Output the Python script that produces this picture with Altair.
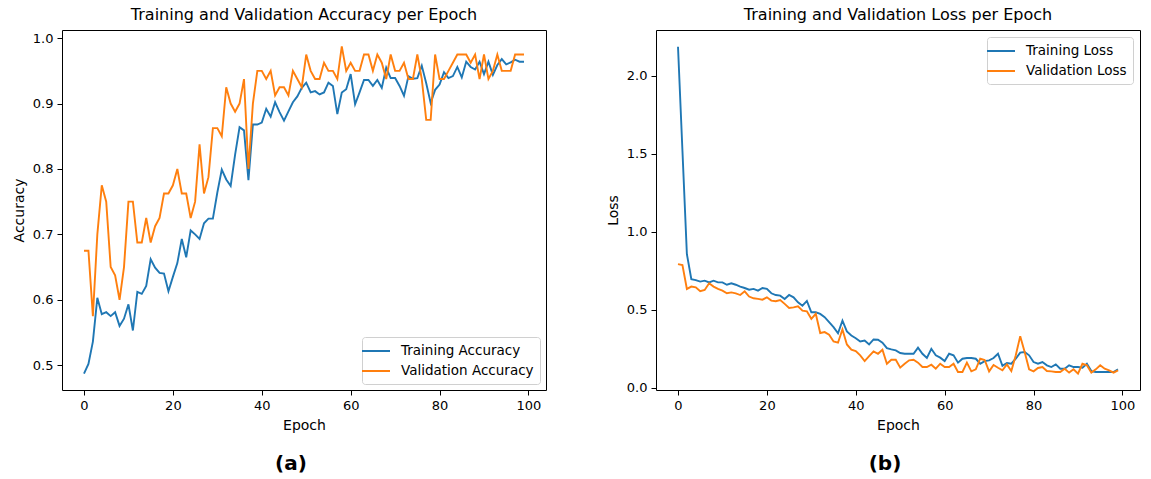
import altair as alt
import pandas as pd

epochs = list(range(100))

train_acc = [
    0.487, 0.502, 0.536, 0.603, 0.578, 0.581, 0.575, 0.581, 0.560, 0.571,
    0.593, 0.553, 0.612, 0.609, 0.621, 0.662, 0.649, 0.641, 0.640, 0.613,
    0.635, 0.656, 0.693, 0.665, 0.706, 0.700, 0.693, 0.717, 0.724, 0.724,
    0.764, 0.799, 0.784, 0.774, 0.822, 0.864, 0.859, 0.783, 0.868, 0.868,
    0.871, 0.892, 0.880, 0.902, 0.887, 0.874, 0.888, 0.902, 0.911, 0.924,
    0.932, 0.917, 0.919, 0.914, 0.917, 0.932, 0.927, 0.884, 0.917, 0.922,
    0.945, 0.899, 0.917, 0.936, 0.936, 0.927, 0.936, 0.924, 0.955, 0.939,
    0.939, 0.927, 0.912, 0.942, 0.938, 0.939, 0.958, 0.931, 0.901, 0.921,
    0.929, 0.948, 0.939, 0.942, 0.956, 0.940, 0.964, 0.956, 0.952, 0.964,
    0.945, 0.964, 0.944, 0.959, 0.968, 0.960, 0.963, 0.967, 0.964, 0.964,
]

val_acc = [
    0.675, 0.675, 0.575, 0.700, 0.775, 0.750, 0.650, 0.6375, 0.600, 0.650,
    0.750, 0.750, 0.6875, 0.6875, 0.725, 0.6875, 0.7125, 0.725, 0.7625, 0.7625,
    0.775, 0.800, 0.7625, 0.7625, 0.725, 0.750, 0.8375, 0.7625, 0.7875, 0.8625,
    0.8625, 0.850, 0.925, 0.900, 0.8875, 0.900, 0.9375, 0.800, 0.900, 0.950,
    0.950, 0.9375, 0.950, 0.9125, 0.925, 0.925, 0.9125, 0.950, 0.9375, 0.925,
    0.975, 0.950, 0.9375, 0.9375, 0.9625, 0.950, 0.950, 0.9375, 0.9875, 0.950,
    0.9625, 0.950, 0.950, 0.975, 0.975, 0.950, 0.975, 0.9625, 0.9375, 0.975,
    0.950, 0.950, 0.9625, 0.9375, 0.9375, 0.975, 0.9375, 0.875, 0.875, 0.975,
    0.9375, 0.9375, 0.950, 0.9625, 0.975, 0.975, 0.975, 0.9625, 0.975, 0.9375,
    0.975, 0.9375, 0.950, 0.975, 0.950, 0.950, 0.950, 0.975, 0.975, 0.975,
]

train_loss = [
    2.187, 1.520, 0.856, 0.696, 0.690, 0.680, 0.686, 0.675, 0.686, 0.675,
    0.675, 0.660, 0.669, 0.660, 0.648, 0.639, 0.628, 0.633, 0.622, 0.639,
    0.633, 0.605, 0.594, 0.590, 0.569, 0.594, 0.579, 0.547, 0.525, 0.556,
    0.483, 0.483, 0.473, 0.452, 0.420, 0.388, 0.349, 0.430, 0.360, 0.334,
    0.317, 0.296, 0.302, 0.277, 0.309, 0.307, 0.288, 0.253, 0.245, 0.239,
    0.222, 0.217, 0.217, 0.217, 0.256, 0.217, 0.190, 0.249, 0.207, 0.192,
    0.170, 0.217, 0.207, 0.160, 0.185, 0.190, 0.190, 0.185, 0.153, 0.170,
    0.175, 0.190, 0.217, 0.140, 0.158, 0.153, 0.185, 0.224, 0.228, 0.207,
    0.164, 0.153, 0.164, 0.143, 0.132, 0.149, 0.121, 0.121, 0.143, 0.132,
    0.132, 0.128, 0.153, 0.106, 0.100, 0.100, 0.100, 0.100, 0.100, 0.117,
]

val_loss = [
    0.792, 0.786, 0.633, 0.648, 0.643, 0.618, 0.626, 0.669, 0.648, 0.633,
    0.622, 0.605, 0.611, 0.605, 0.594, 0.618, 0.584, 0.573, 0.569, 0.564,
    0.579, 0.558, 0.554, 0.562, 0.537, 0.511, 0.515, 0.522, 0.494, 0.489,
    0.441, 0.473, 0.350, 0.356, 0.339, 0.296, 0.288, 0.373, 0.277, 0.243,
    0.234, 0.207, 0.170, 0.202, 0.232, 0.217, 0.243, 0.153, 0.179, 0.179,
    0.128, 0.153, 0.175, 0.179, 0.160, 0.132, 0.132, 0.147, 0.121, 0.153,
    0.132, 0.132, 0.153, 0.100, 0.100, 0.160, 0.104, 0.117, 0.185, 0.177,
    0.104, 0.145, 0.127, 0.111, 0.149, 0.106, 0.207, 0.330, 0.228, 0.117,
    0.104, 0.126, 0.132, 0.106, 0.104, 0.100, 0.100, 0.121, 0.096, 0.117,
    0.089, 0.153, 0.143, 0.096, 0.117, 0.143, 0.121, 0.111, 0.096, 0.111,
]

acc_series = ["Training Accuracy", "Validation Accuracy"]
loss_series = ["Training Loss", "Validation Loss"]
series_colors = ["#1f77b4", "#ff7f0e"]
x_ticks = [0, 20, 40, 60, 80, 100]
acc_ticks = [0.5, 0.6, 0.7, 0.8, 0.9, 1.0]
loss_ticks = [0.0, 0.5, 1.0, 1.5, 2.0]
titles = ["Training and Validation Accuracy per Epoch", "Training and Validation Loss per Epoch"]
tags = ["(a)", "(b)"]

FONT = "DejaVu Sans"
W, H = 484, 360


def long_df(a, b, names):
    return pd.DataFrame({
        "Epoch": epochs + epochs,
        "Value": a + b,
        "Series": [names[0]] * len(a) + [names[1]] * len(b),
    })


def panel(df, names, ytitle, ydomain, yticks, title, tag, legend_orient, legend_offset):
    lines = alt.Chart(df).mark_line(strokeWidth=1.9, clip=True).encode(
        x=alt.X("Epoch:Q",
                scale=alt.Scale(domain=[-4.95, 103.95], nice=False, zero=False),
                axis=alt.Axis(values=x_ticks, format="d", title="Epoch")),
        y=alt.Y("Value:Q",
                scale=alt.Scale(domain=ydomain, nice=False, zero=False),
                axis=alt.Axis(values=yticks, format=".1f", title=ytitle)),
        color=alt.Color("Series:N",
                        scale=alt.Scale(domain=names, range=series_colors),
                        legend=alt.Legend(
                            title=None, orient=legend_orient, offset=legend_offset,
                            fillColor="white", strokeColor="#d0d0d0", cornerRadius=3,
                            padding=6, labelFontSize=13.5, labelFont=FONT, labelColor="black",
                            symbolType="M-2,0H2", symbolSize=196, symbolStrokeWidth=2,
                            labelOffset=17, rowPadding=5, labelLimit=300)),
    )
    tag_df = pd.DataFrame({"tag": [tag]})
    tag_text = alt.Chart(tag_df).mark_text(
        fontSize=20, fontWeight="bold", font=FONT, align="center", baseline="middle", color="black"
    ).encode(x=alt.value(229), y=alt.value(434), text="tag:N")
    return alt.layer(lines, tag_text).properties(
        width=W, height=H,
        title=alt.TitleParams(title, fontSize=16, fontWeight="normal", font=FONT, color="black", offset=7),
    )


left = panel(long_df(train_acc, val_acc, acc_series), acc_series, "Accuracy",
             [0.462, 1.0125], acc_ticks, titles[0], tags[0], "bottom-right", 6)
right = panel(long_df(train_loss, val_loss, loss_series), loss_series, "Loss",
              [-0.0155, 2.2945], loss_ticks, titles[1], tags[1], "top-right", 7)

chart = alt.hconcat(left, right, spacing=58).resolve_scale(
    color="independent", x="independent", y="independent"
).resolve_legend(color="independent").properties(
    padding={"left": 11, "top": 6, "right": 5, "bottom": 0}
).configure(font=FONT).configure_view(
    stroke="black", strokeWidth=1
).configure_axis(
    domain=False, grid=False, tickSize=5, tickColor="black", tickWidth=1,
    labelFontSize=13, labelColor="black", labelFont=FONT, labelPadding=4,
    titleFontSize=14, titleColor="black", titleFont=FONT, titleFontWeight="normal",
    titlePadding=6,
)

chart.save("out.html", embed_options={"renderer": "svg", "actions": False})
